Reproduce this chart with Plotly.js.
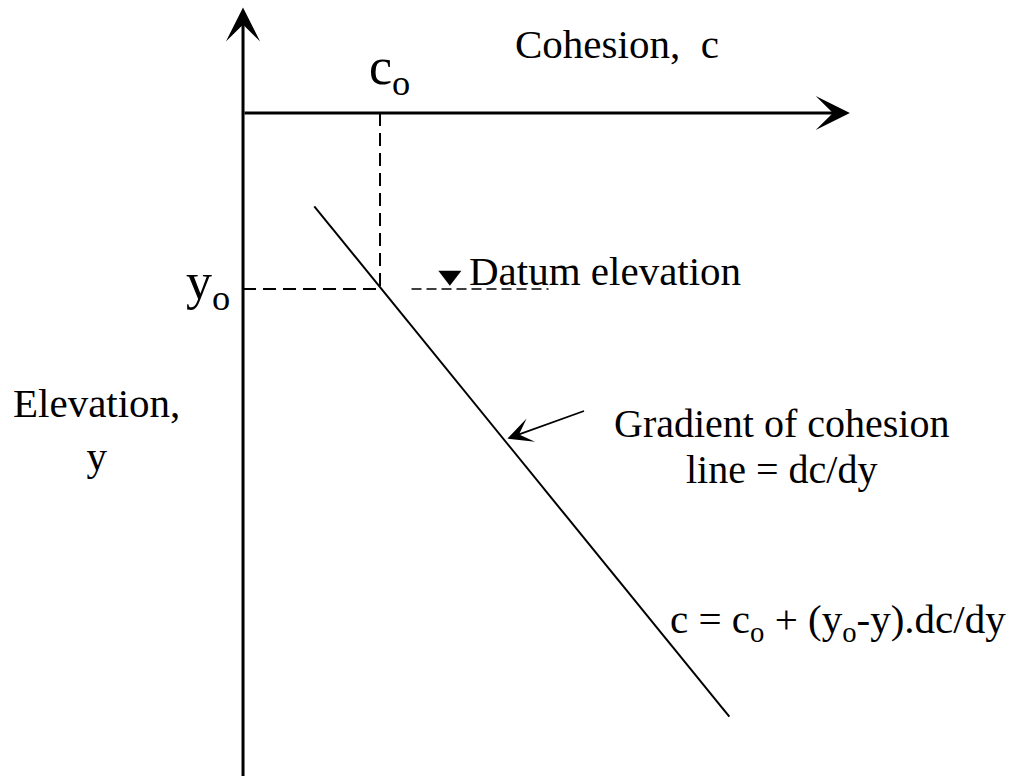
<!DOCTYPE html>
<html>
<head>
<meta charset="utf-8">
<script src="https://cdn.plot.ly/plotly-3.0.1.min.js"></script>
<style>
  html, body { margin: 0; padding: 0; background: #fff; }
  #chart { width: 1021px; height: 776px; }
</style>
</head>
<body>
<div id="chart"></div>
<script>
// diagram units: c along the top axis, elevation y upward
const C0 = 1.0;
const Y0 = 3.0;
const C_AXIS_Y = 4.0;       // elevation where the c axis is drawn
const C_AXIS_END = 4.43;
const Y_AXIS_TOP = 4.60;
const Y_AXIS_BOTTOM = 0.0;

const gradLineC = [0.52, 3.55];
const gradLineY = [3.47, 0.57];

const datumC = [1.23, 2.23];
const datumMarkC = [1.51];
const datumMarkY = [3.075];

const arrowTail = [2.50, 2.31];
const arrowHead = [1.93, 2.15];

const FONT = 'Liberation Serif, Times New Roman, serif';

const traces = [
    // c_o projection
    { x: [C0, C0], y: [C_AXIS_Y, Y0], mode: 'lines',
      line: { color: '#000', width: 2, dash: '13px,7px' } },
    // y_o projection
    { x: [0, C0], y: [Y0, Y0], mode: 'lines',
      line: { color: '#000', width: 2, dash: '13px,7px' } },
    // datum level
    { x: datumC, y: [Y0, Y0], mode: 'lines',
      line: { color: '#000', width: 1.7, dash: '10px,5px' } },
    { x: datumMarkC, y: datumMarkY, mode: 'markers',
      marker: { symbol: 'triangle-down', size: 20, color: '#000' } },
    // cohesion line
    { x: gradLineC, y: gradLineY, mode: 'lines',
      line: { color: '#000', width: 2 } }
];

const txt = (x, y, text, size, xanchor) => ({
    x: x, y: y, xref: 'x', yref: 'y', text: text, showarrow: false,
    xanchor: xanchor || 'center', yanchor: 'middle',
    font: { family: FONT, size: size, color: '#000' }
});

const annotations = [
    // axes with arrowheads
    { x: C_AXIS_END, y: C_AXIS_Y, ax: 0, ay: C_AXIS_Y, axref: 'x', ayref: 'y',
      xref: 'x', yref: 'y', text: '', showarrow: true,
      arrowhead: 3, arrowwidth: 3, arrowsize: 1.9, arrowcolor: '#000' },
    { x: 0, y: Y_AXIS_TOP, ax: 0, ay: Y_AXIS_BOTTOM, axref: 'x', ayref: 'y',
      xref: 'x', yref: 'y', text: '', showarrow: true,
      arrowhead: 3, arrowwidth: 3, arrowsize: 1.9, arrowcolor: '#000' },
    // pointer to the cohesion line
    { x: arrowHead[0], y: arrowHead[1], ax: arrowTail[0], ay: arrowTail[1],
      axref: 'x', ayref: 'y', xref: 'x', yref: 'y', text: '', showarrow: true,
      arrowhead: 3, arrowwidth: 1.8, arrowsize: 2.3, arrowcolor: '#000' },

    txt(1.97, 4.39, 'Cohesion,  c', 41, 'left'),
    txt(1.07, 4.24, 'c<sub>o</sub>', 52),
    txt(-0.08, 3.02, 'y<sub>o</sub>', 52, 'right'),
    txt(1.635, 3.10, 'Datum elevation', 41, 'left'),
    txt(-1.07, 2.20, 'Elevation,<br>y', 41),
    txt(3.93, 2.235, 'Gradient of cohesion', 40),
    txt(3.93, 1.975, 'line = dc/dy', 40),
    txt(3.10, 1.11, 'c = c<sub>o</sub> + (y<sub>o</sub>-y).dc/dy', 41, 'left')
];

const layout = {
    width: 1021, height: 776,
    margin: { l: 0, r: 0, t: 0, b: 0 },
    paper_bgcolor: '#fff', plot_bgcolor: '#fff',
    showlegend: false,
    xaxis: { range: [-1.774, 5.679], visible: false, fixedrange: true },
    yaxis: { range: [0.233, 4.642], visible: false, fixedrange: true },
    font: { family: FONT, color: '#000' },
    annotations: annotations
};

Plotly.newPlot('chart', traces, layout, { displayModeBar: false, staticPlot: true });
</script>
</body>
</html>
